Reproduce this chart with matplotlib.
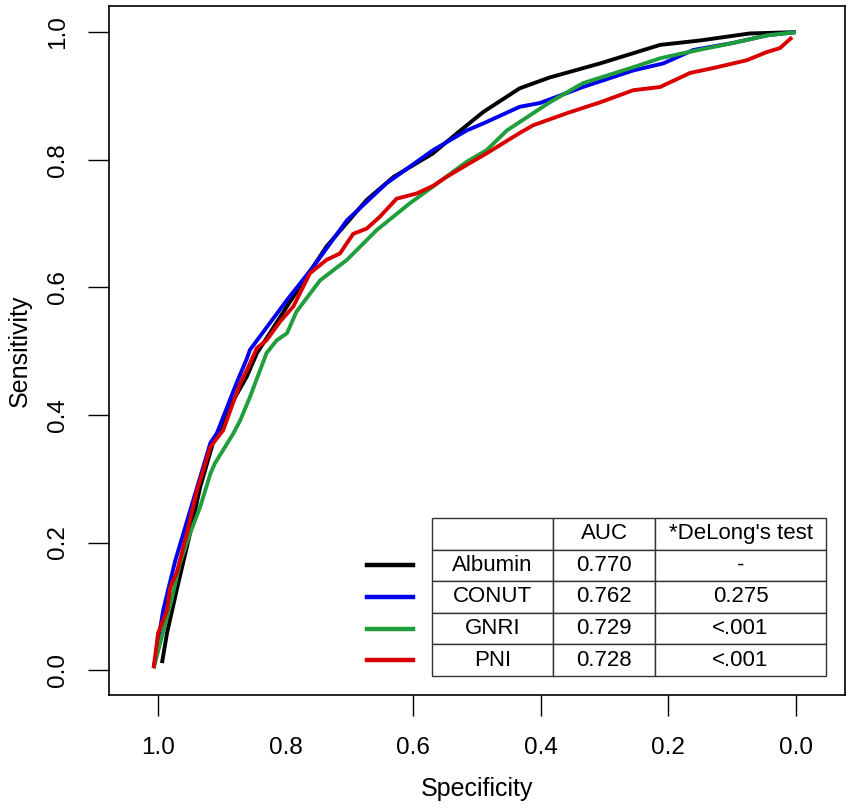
import matplotlib
matplotlib.use("Agg")
import matplotlib.pyplot as plt
from matplotlib.lines import Line2D

plt.rcParams['font.family'] = ['Liberation Sans', 'DejaVu Sans']

# curvas ROC (especificidad, sensibilidad)
alb_spec = [0.994, 0.986, 0.971, 0.950, 0.934, 0.914, 0.882, 0.861, 0.845, 0.798, 0.736, 0.673, 0.631,
            0.569, 0.532, 0.490, 0.433, 0.386, 0.307, 0.213, 0.150, 0.072, 0.0]
alb_sens = [0.011, 0.058, 0.125, 0.214, 0.287, 0.356, 0.423, 0.460, 0.497, 0.570, 0.664, 0.737, 0.773,
            0.810, 0.841, 0.875, 0.912, 0.929, 0.951, 0.980, 0.987, 0.998, 1.0]

con_spec = [1.007, 0.992, 0.973, 0.945, 0.918, 0.908, 0.877, 0.861, 0.856, 0.798, 0.757, 0.704, 0.642,
            0.569, 0.516, 0.490, 0.433, 0.401, 0.334, 0.255, 0.208, 0.161, 0.099, 0.045, 0.0]
con_sens = [0.003, 0.094, 0.172, 0.266, 0.356, 0.371, 0.450, 0.488, 0.502, 0.580, 0.632, 0.705, 0.763,
            0.815, 0.846, 0.857, 0.883, 0.889, 0.914, 0.940, 0.951, 0.972, 0.983, 0.995, 1.0]

gnri_spec = [1.007, 0.979, 0.966, 0.950, 0.934, 0.918, 0.911, 0.882, 0.871, 0.856, 0.830, 0.814, 0.798,
             0.783, 0.746, 0.704, 0.657, 0.605, 0.569, 0.516, 0.485, 0.453, 0.386, 0.334, 0.255, 0.213,
             0.177, 0.099, 0.045, 0.0]
gnri_sens = [0.003, 0.110, 0.167, 0.214, 0.256, 0.308, 0.324, 0.371, 0.392, 0.428, 0.497, 0.517, 0.528,
             0.562, 0.611, 0.643, 0.690, 0.732, 0.758, 0.797, 0.815, 0.846, 0.890, 0.920, 0.945, 0.959,
             0.967, 0.983, 0.995, 1.0]

pni_spec = [1.007, 1.000, 0.986, 0.981, 0.971, 0.955, 0.939, 0.918, 0.898, 0.877, 0.871, 0.861, 0.845,
            0.830, 0.809, 0.788, 0.762, 0.736, 0.715, 0.694, 0.673, 0.652, 0.626, 0.595, 0.569, 0.548,
            0.516, 0.485, 0.433, 0.412, 0.359, 0.307, 0.255, 0.213, 0.166, 0.124, 0.077, 0.045, 0.025, 0.006]
pni_sens = [0.003, 0.058, 0.094, 0.130, 0.152, 0.214, 0.282, 0.350, 0.376, 0.434, 0.450, 0.470, 0.505,
            0.517, 0.546, 0.570, 0.622, 0.643, 0.653, 0.684, 0.692, 0.711, 0.739, 0.747, 0.759, 0.773,
            0.792, 0.810, 0.842, 0.854, 0.873, 0.890, 0.909, 0.914, 0.936, 0.945, 0.956, 0.969, 0.975, 0.992]

nombres = ["Albumin", "CONUT", "GNRI", "PNI"]
auc = ["0.770", "0.762", "0.729", "0.728"]
delong = ["-", "0.275", "<.001", "<.001"]
colores = ["black", "#0000ee", "#1f9e3b", "#d90000"]

xticks = [1.0, 0.8, 0.6, 0.4, 0.2, 0.0]
yticks = [0.0, 0.2, 0.4, 0.6, 0.8, 1.0]

fig = plt.figure(figsize=(8.51, 8.08), dpi=100)
ax = fig.add_axes([109/851, 1 - 695/808, 736/851, 689/808])

curvas = [(alb_spec, alb_sens), (con_spec, con_sens), (gnri_spec, gnri_sens), (pni_spec, pni_sens)]
for (sx, sy), c in zip(curvas, colores):
    ax.plot(sx, sy, color=c, lw=2.8, solid_capstyle='butt', solid_joinstyle='round')

ax.set_xlim(1.077, -0.077)
ax.set_ylim(-0.039, 1.041)

ax.set_xticks(xticks)
ax.set_xticklabels([f"{v:.1f}" for v in xticks])
ax.set_yticks(yticks)
ax.set_yticklabels([f"{v:.1f}" for v in yticks], rotation=90, va='center')
ax.tick_params(axis='both', direction='out', length=15, width=1.0, labelsize=17.5, color='black')
ax.tick_params(axis='x', pad=15)
ax.tick_params(axis='y', pad=14)
# en el original falta la marca del 0.8
ax.xaxis.get_major_ticks()[1].tick1line.set_visible(False)

for s in ax.spines.values():
    s.set_linewidth(1.2)

ax.set_xlabel("Specificity", fontsize=18, labelpad=13)
ax.set_ylabel("Sensitivity", fontsize=18, labelpad=11)

# tabla de AUC
tb_left, tb_bottom, tb_w, tb_h = 0.4389, 0.0276, 0.5353, 0.2293
celdas = [["", "AUC", "*DeLong's test"]] + [[n, a, d] for n, a, d in zip(nombres, auc, delong)]
tabla = ax.table(cellText=celdas, cellLoc='center',
                 colWidths=[121/394, 102/394, 171/394],
                 bbox=[tb_left, tb_bottom, tb_w, tb_h])
tabla.auto_set_font_size(False)
for (r, c), cell in tabla.get_celld().items():
    cell.set_edgecolor('#333333')
    cell.set_linewidth(1.0)
    cell.get_text().set_fontsize(16)
    cell.get_text().set_fontfamily(['Liberation Sans', 'DejaVu Sans'])

# lineas de la leyenda al lado de la tabla
alto_fila = tb_h / len(celdas)
for i, c in enumerate(colores):
    yc = tb_bottom + tb_h - (i + 1.5) * alto_fila
    ax.add_line(Line2D([0.3505, 0.413], [yc, yc], color=c, lw=3.2,
                       transform=ax.transAxes, clip_on=False))

fig.savefig("out.png", dpi=100)
